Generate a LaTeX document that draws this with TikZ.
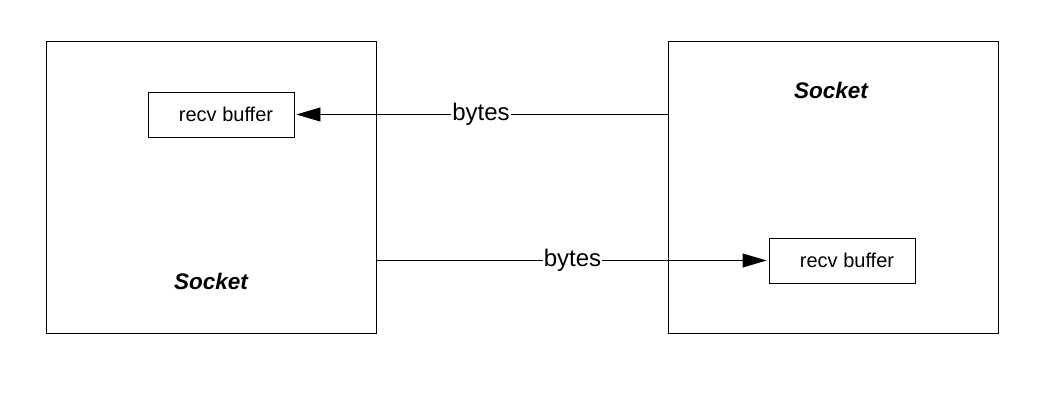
\documentclass[tikz,border=0pt]{standalone}
\usepackage{fontspec}
\setmainfont{Liberation Sans}
\usetikzlibrary{arrows.meta}
\tikzset{
  sockbox/.style={draw, line width=0.9pt, minimum width=330pt, minimum height=292pt, inner sep=0pt},
  bufbox/.style={draw, line width=0.9pt, minimum width=146pt, minimum height=45pt, inner sep=0pt, font=\fontsize{20}{22}\selectfont},
  socklabel/.style={font=\fontsize{22.5}{26}\selectfont\bfseries\itshape},
  flow/.style={line width=0.9pt, -{Triangle[length=24pt,width=14pt]}, shorten >=2pt},
  flowlabel/.style={fill=white, inner sep=1pt, font=\fontsize{24}{27}\selectfont}
}
\begin{document}
\begin{tikzpicture}[x=1pt,y=-1pt]
\useasboundingbox[fill=white] (0,0) rectangle (1040,406);
\node[sockbox] (lsock) at (211,187) {};
\node[sockbox] (rsock) at (833,187) {};
\node[bufbox] (lbuf) at (221,114.5) {\hspace{10pt}recv buffer};
\node[bufbox] (rbuf) at (842,260.5) {\hspace{10pt}recv buffer};
\node[socklabel] (lsl) at (211,281) {Socket};
\node[socklabel] (rsl) at (831,90) {Socket};
\draw[flow] (rsock.west |- lbuf.east) -- node[flowlabel] (b1) {bytes} (lbuf.east);
\draw[flow] (lsock.east |- rbuf.west) -- node[flowlabel] (b2) {bytes} (rbuf.west);
\end{tikzpicture}
\end{document}
